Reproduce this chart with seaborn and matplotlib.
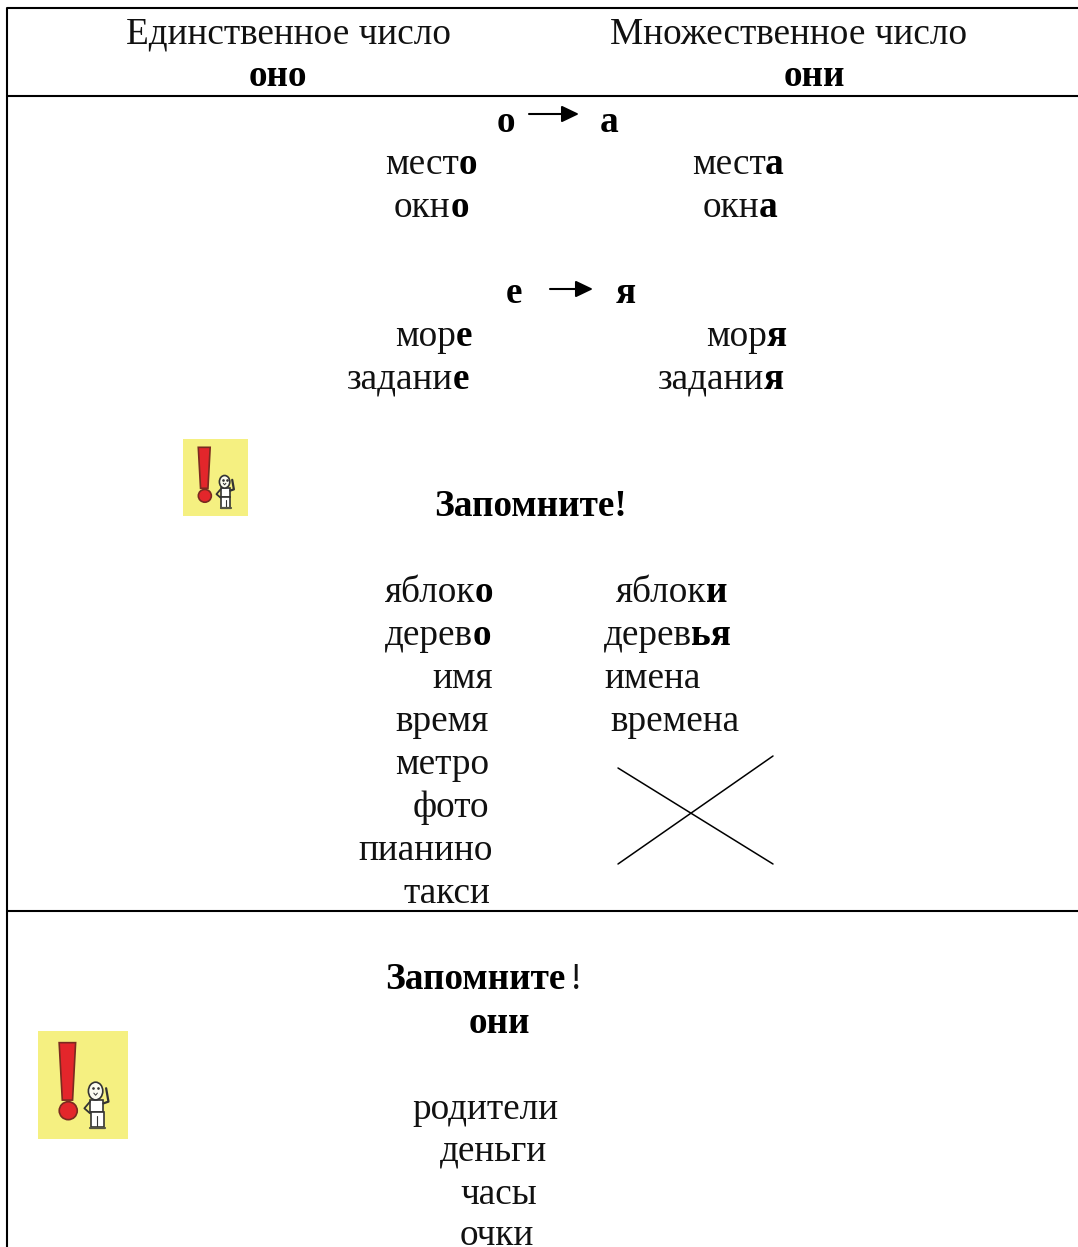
import matplotlib
matplotlib.use("Agg")
import matplotlib.pyplot as plt
from matplotlib.patches import Rectangle, Ellipse, Polygon
import seaborn as sns

sns.set_theme(style="white")
plt.rcParams['font.family'] = ['Liberation Serif', 'DejaVu Serif']
plt.rcParams['text.color'] = 'black'

FS = 26.85

# Text: (regular part, bold part) pairs
header_left = "Единственное число"
header_right = "Множественное число"
pron_left = "оно"
pron_right = "они"

words_oa_sg = [("мест", "о"), ("окн", "о")]
words_oa_pl = [("мест", "а"), ("окн", "а")]
words_eya_sg = [("мор", "е"), ("задани", "е")]
words_eya_pl = [("мор", "я"), ("задани", "я")]
remember = "Запомните"
irregular_sg = [("яблок", "о"), ("дерев", "о"), ("имя", ""), ("время", ""),
                ("метро", ""), ("фото", ""), ("пианино", ""), ("такси", "")]
irregular_pl = [("яблок", "и"), ("дерев", "ья"), ("имена", ""), ("времена", "")]
plural_only = ["родители", "деньги", "часы", "очки"]

# Layout, in reference pixels
oa_sg_x, oa_pl_x, oa_y = [385, 394], [692, 703], [173, 216]
eya_sg_x, eya_pl_x, eya_y = [395, 347], [706, 658], [345, 388]
irr_sg_x = [385, 385, 432, 395, 395, 413, 358, 403]
irr_pl_x = [616, 604, 604, 610]
irr_y = [601, 644, 687, 730, 773, 816, 859, 902]
only_x = [412, 440, 460, 460]
only_y = [1118, 1160, 1203, 1244]

fig = plt.figure(figsize=(10.78, 12.47), dpi=100)
ax = fig.add_axes([0, 0, 1, 1])
ax.set_xlim(0, 1078)
ax.set_ylim(1247, 0)
ax.axis("off")


def rule(xs, ys, lw=1.5):
    sns.lineplot(x=xs, y=ys, color="black", linewidth=lw, sort=False,
                 estimator=None, ax=ax, legend=False)


def put(x, y, regular="", bold=""):
    # Writes a regular part and a bold part one after the other on a baseline
    y = y + 1
    r = fig.canvas.get_renderer()
    if regular:
        t = ax.text(x, y, regular, fontsize=FS, va="baseline", ha="left", color="#111111")
        x = ax.transData.inverted().transform(t.get_window_extent(r))[1][0] - 0.5
    if bold:
        ax.text(x, y, bold, fontsize=FS, va="baseline", ha="left", weight="bold")


def arrow(x0, x1, y):
    ax.annotate("", xy=(x1, y), xytext=(x0, y),
                arrowprops=dict(arrowstyle="-|>,head_length=0.75,head_width=0.36",
                                mutation_scale=14, color="black", lw=1.5,
                                shrinkA=0, shrinkB=0))


def icon(x, y, w, h):
    # Yellow warning card: red exclamation mark and a small figure
    dark = "#333333"
    px = lambda f: x + f * w
    py = lambda f: y + f * h
    ax.add_patch(Rectangle((x, y), w, h, fc="#f5f081", ec="none"))
    ax.add_patch(Polygon([(px(.235), py(.108)), (px(.418), py(.108)),
                          (px(.384), py(.64)), (px(.27), py(.64))],
                         fc="#e3262b", ec="#7a2a20", lw=1.2))
    ax.add_patch(Ellipse((px(.336), py(.738)), .2 * w, .166 * h, fc="#e3262b", ec="#7a2a20", lw=1.2))
    # figure
    ax.plot([px(.578), px(.515), px(.578)], [py(.654), py(.716), py(.762)], color=dark, lw=1.3)
    ax.plot([px(.727), px(.783), px(.757)], [py(.67), py(.654), py(.53)], color=dark, lw=1.6)
    ax.add_patch(Rectangle((px(.578), py(.64)), .149 * w, .11 * h, fc="white", ec=dark, lw=1.2))
    ax.add_patch(Rectangle((px(.59), py(.75)), .14 * w, .14 * h, fc="white", ec=dark, lw=1.2))
    ax.plot([px(.66)] * 2, [py(.79), py(.89)], color=dark, lw=.8)
    ax.plot([px(.58), px(.74)], [py(.895)] * 2, color="#555544", lw=1.6)
    ax.add_patch(Ellipse((px(.64), py(.556)), .16 * w, .164 * h, fc="#fbfbf0", ec=dark, lw=1.2, zorder=4))
    ax.plot([px(.61), px(.67)], [py(.53)] * 2, ls="none", marker="o", ms=.9, color=dark, zorder=5)
    ax.plot([px(.62), px(.64), px(.66)], [py(.575), py(.595), py(.575)], color=dark, lw=.7, zorder=5)


# Table rules
rule([1078, 7, 7], [8, 8, 1247])
rule([7, 1078], [96, 96])
rule([7, 1078], [911, 911])

# Header
ax.text(288, 43.5, header_left, fontsize=FS, ha="center", va="baseline", color="#111111")
ax.text(789, 44, header_right, fontsize=FS, ha="center", va="baseline", color="#111111")
ax.text(278, 86.5, pron_left, fontsize=FS, ha="center", va="baseline", weight="bold")
ax.text(814, 86.5, pron_right, fontsize=FS, ha="center", va="baseline", weight="bold")

# о -> а
put(497, 131, "", "о")
arrow(529, 579, 114)
put(600, 131, "", "а")
for x, y, w in zip(oa_sg_x, oa_y, words_oa_sg):
    put(x, y, *w)
for x, y, w in zip(oa_pl_x, oa_y, words_oa_pl):
    put(x, y, *w)

# е -> я
put(506, 302, "", "е")
arrow(550, 593, 289)
put(616, 302, "", "я")
for x, y, w in zip(eya_sg_x, eya_y, words_eya_sg):
    put(x, y, *w)
for x, y, w in zip(eya_pl_x, eya_y, words_eya_pl):
    put(x, y, *w)

# Запомните!
icon(183, 439, 65, 77)
put(434, 515, "", remember + "!")
for x, y, w in zip(irr_sg_x, irr_y, irregular_sg):
    put(x, y, *w)
for x, y, w in zip(irr_pl_x, irr_y, irregular_pl):
    put(x, y, *w)

# Cross for words with no plural
rule([618, 773], [768, 864], 1.1)
rule([618, 773], [864, 756], 1.1)

# Only plural
icon(38, 1031, 90, 108)
put(385, 988, "", remember)
put(570, 988, "!", "")
put(469, 1032, "", "они")
for x, y, w in zip(only_x, only_y, plural_only):
    put(x, y, w)

fig.savefig("out.png", dpi=100)
